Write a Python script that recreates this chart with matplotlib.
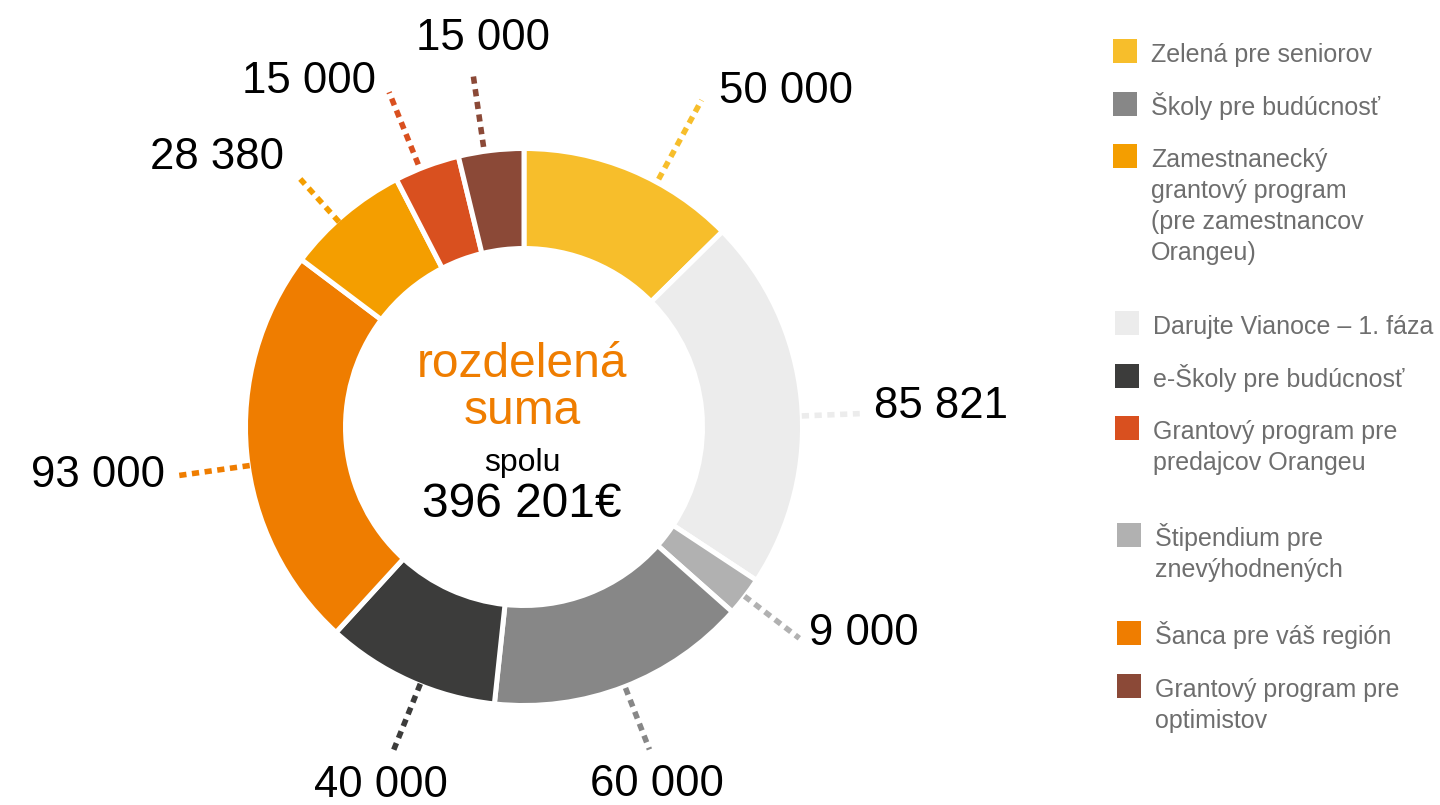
import numpy as np
import matplotlib
matplotlib.use("Agg")
from matplotlib import pyplot as plt
from matplotlib.patches import Rectangle

## data (clockwise from the top)
values = [50000, 85821, 9000, 60000, 40000, 93000, 28380, 15000, 15000]
colors = ['#F7BE2B', '#ECECEC', '#B1B1B1', '#878787', '#3C3C3B',
          '#EF7D00', '#F49E00', '#D9501F', '#8B4937']
programs = ['Zelená pre seniorov',
            'Darujte Vianoce – 1. fáza',
            'Štipendium pre\nznevýhodnených',
            'Školy pre budúcnosť',
            'e-Školy pre budúcnosť',
            'Šanca pre váš región',
            'Zamestnanecký\ngrantový program\n(pre zamestnancov\nOrangeu)',
            'Grantový program pre\npredajcov Orangeu',
            'Grantový program pre\noptimistov']
legend_order = [0, 3, 6, 1, 4, 7, 2, 5, 8]
title_lines = ['rozdelená', 'suma']
total_label = 'spolu'

## layout (pixels, figure is 1440x805)
cx, cy = 524, 378
r_out, ring = 278.5, 100
# per label: angle nudge (deg, clockwise), r start, r end, ha, va, dx, dy
label_layout = [
    (5.8, 282, 372, 'left', 'baseline', 17, -3),
    (3.3, 278, 336, 'left', 'baseline', 14, -4),
    (0.0, 278, 347, 'left', 'baseline', 10, -7),
    (-0.1, 280, 346, 'center', 'top', 8, -15),
    (-2.3, 277, 348, 'center', 'top', -13, -15),
    (-2.7, 277, 351, 'right', 'baseline', -11, -11),
    (-1.9, 276, 334, 'right', 'baseline', -16, 10),
    (-1.5, 283, 361, 'right', 'baseline', -13, -1),
    (-1.4, 283, 358, 'center', 'baseline', 10, 23),
]
legend_y = [51, 104, 156, 323, 376, 428, 535, 633, 686]
legend_dx = [0, 0, 0, 2, 2, 2, 4, 4, 4]

font = 'Liberation Sans'

fig = plt.figure(figsize=(14.4, 8.05), dpi=100)
ax = fig.add_axes([0, 0, 1, 1])

wedges, _ = ax.pie(values, colors=colors, startangle=90, counterclock=False,
                   center=(cx, cy), radius=r_out,
                   wedgeprops=dict(width=ring, edgecolor='white', linewidth=3.6))

## dotted leader lines and value labels
for w, v, c, lay in zip(wedges, values, colors, label_layout):
    nudge, r0, r1, ha, va, dx, dy = lay
    theta = np.deg2rad((w.theta1 + w.theta2) / 2 - nudge)
    x0, y0 = cx + r0 * np.cos(theta), cy + r0 * np.sin(theta)
    x1, y1 = cx + r1 * np.cos(theta), cy + r1 * np.sin(theta)
    ax.plot([x0, x1], [y0, y1], color=c, lw=4.0, ls=(0, (1.3, 1.0)),
            solid_capstyle='butt', dash_capstyle='butt', zorder=3)
    txt = '{:,}'.format(v).replace(',', ' ')
    ax.text(x1 + dx, y1 + dy, txt, ha=ha, va=va, fontsize=31.5,
            family=font, color='black')

## centre text
ax.text(cx - 2, 805 - 377, title_lines[0], ha='center', va='baseline',
        fontsize=34.5, family=font, color='#EF7D00')
ax.text(cx - 2, 805 - 424, title_lines[1], ha='center', va='baseline',
        fontsize=34.5, family=font, color='#EF7D00')
ax.text(cx - 2, 805 - 471, total_label, ha='center', va='baseline',
        fontsize=23, family=font, color='black')
ax.text(cx - 2, 805 - 517, '{:,}€'.format(sum(values)).replace(',', ' '),
        ha='center', va='baseline', fontsize=34.5, family=font, color='black')

## hand made legend
for k, i in enumerate(legend_order):
    yc = 805 - legend_y[k]
    x = 1113 + legend_dx[k]
    ax.add_patch(Rectangle((x, yc - 12), 24, 24, facecolor=colors[i],
                           edgecolor='none'))
    for j, line in enumerate(programs[i].split('\n')):
        ax.text(x + 38, yc - 11 - 31 * j, line, ha='left', va='baseline',
                fontsize=18, family=font, color='#6E6E6E')

ax.set_xlim(0, 1440)
ax.set_ylim(0, 805)
ax.set_aspect('auto')
ax.axis('off')

fig.savefig('out.png', dpi=100)
